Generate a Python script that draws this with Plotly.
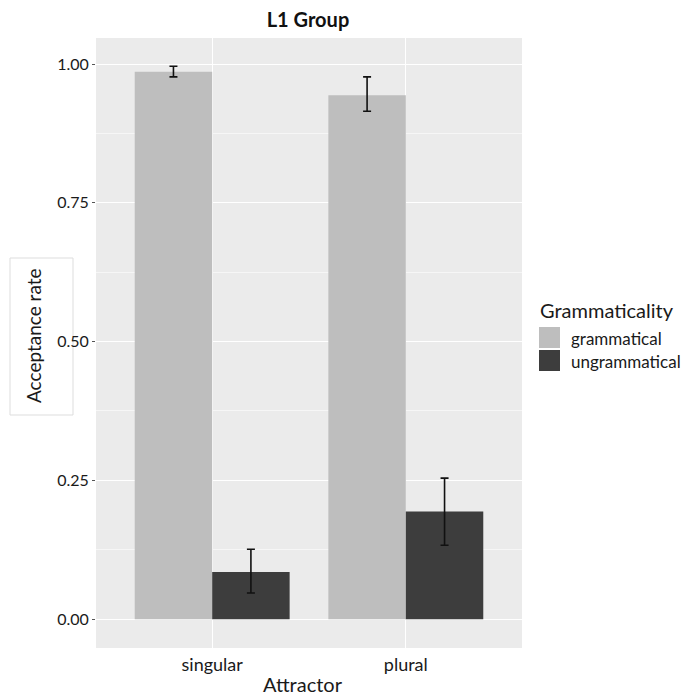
import plotly.graph_objects as go

# Acceptance rates by attractor number and grammaticality (L1 group)
attractor = ["singular", "plural"]
conditions = ["grammatical", "ungrammatical"]
rate = {
    "grammatical": [0.986, 0.944],
    "ungrammatical": [0.085, 0.194],
}
ci_upper = {
    "grammatical": [0.996, 0.977],
    "ungrammatical": [0.126, 0.254],
}
ci_lower = {
    "grammatical": [0.977, 0.915],
    "ungrammatical": [0.047, 0.133],
}
y_ticks = [0.0, 0.25, 0.5, 0.75, 1.0]
y_tick_text = ["0.00", "0.25", "0.50", "0.75", "1.00"]
y_minor = [0.125, 0.375, 0.625, 0.875]

colors = {"grammatical": "#bebebe", "ungrammatical": "#3d3d3d"}
FONT = "Lato"
INK = "#1a1a1a"

fig = go.Figure()
for cond in conditions:
    vals = rate[cond]
    fig.add_trace(go.Bar(
        x=attractor,
        y=vals,
        name=cond,
        marker=dict(color=colors[cond], line=dict(width=0)),
        error_y=dict(
            type="data",
            symmetric=False,
            array=[u - v for u, v in zip(ci_upper[cond], vals)],
            arrayminus=[v - l for v, l in zip(vals, ci_lower[cond])],
            color="#111111",
            thickness=1.6,
            width=4,
        ),
        showlegend=False,
    ))

W, H = 687, 696
L, R, T, B = 96, 165, 38, 48
pw = W - L - R
ph = H - T - B

def px_x(p):
    return (p - L) / pw

def px_y(p):
    return 1 - (p - T) / ph

fig.update_layout(
    width=W, height=H,
    margin=dict(l=L, r=R, t=T, b=B),
    paper_bgcolor="white",
    plot_bgcolor="#ebebeb",
    barmode="group",
    bargap=0.2,
    bargroupgap=0,
    font=dict(family=FONT, color=INK),
    title=dict(text="<b>L1 Group</b>", xref="paper", x=px_x(308), xanchor="center",
               yref="container", y=1 - 20 / H, yanchor="middle",
               font=dict(size=20, family=FONT, color="#111111")),
    xaxis=dict(
        range=[-0.6, 1.6],
        showgrid=True, gridcolor="white", gridwidth=1.2,
        zeroline=False, showline=False,
        ticks="", tickfont=dict(size=18, color=INK),
        ticklabelstandoff=4,
    ),
    yaxis=dict(
        range=[-0.052, 1.047],
        tickvals=y_ticks, ticktext=y_tick_text,
        showgrid=True, gridcolor="white", gridwidth=1.2,
        minor=dict(tickvals=y_minor, showgrid=True, gridcolor="#f6f6f6", gridwidth=0.6),
        zeroline=False, showline=False,
        ticks="outside", ticklen=3, tickcolor="#555555",
        tickfont=dict(size=16, color=INK),
    ),
)

# x-axis title
fig.add_annotation(text="Attractor", xref="paper", yref="paper",
                   x=px_x(303), y=px_y(684), xanchor="center", yanchor="middle",
                   showarrow=False, font=dict(size=20, family=FONT, color=INK))

# y-axis title inside a framed box
fig.add_shape(type="rect", xref="paper", yref="paper",
              x0=px_x(10), x1=px_x(73), y0=px_y(415), y1=px_y(258),
              line=dict(color="#dddddd", width=1), fillcolor="white", layer="below")
fig.add_annotation(text="Acceptance rate", xref="paper", yref="paper",
                   x=px_x(34), y=px_y(336), xanchor="center", yanchor="middle",
                   textangle=-90, showarrow=False,
                   font=dict(size=19, family=FONT, color=INK))

# legend drawn as keys and labels
fig.add_annotation(text="Grammaticality", xref="paper", yref="paper",
                   x=px_x(538), y=px_y(310), xanchor="left", yanchor="middle",
                   showarrow=False, font=dict(size=20, family=FONT, color=INK))
key_tops = [327, 350]
for cond, top in zip(conditions, key_tops):
    fig.add_shape(type="rect", xref="paper", yref="paper",
                  x0=px_x(539), x1=px_x(560), y0=px_y(top + 21), y1=px_y(top),
                  line=dict(width=0), fillcolor=colors[cond])
    fig.add_annotation(text=cond, xref="paper", yref="paper",
                       x=px_x(569), y=px_y(top + 11), xanchor="left", yanchor="middle",
                       showarrow=False, font=dict(size=17, family=FONT, color=INK))

fig.write_html("out.html")
